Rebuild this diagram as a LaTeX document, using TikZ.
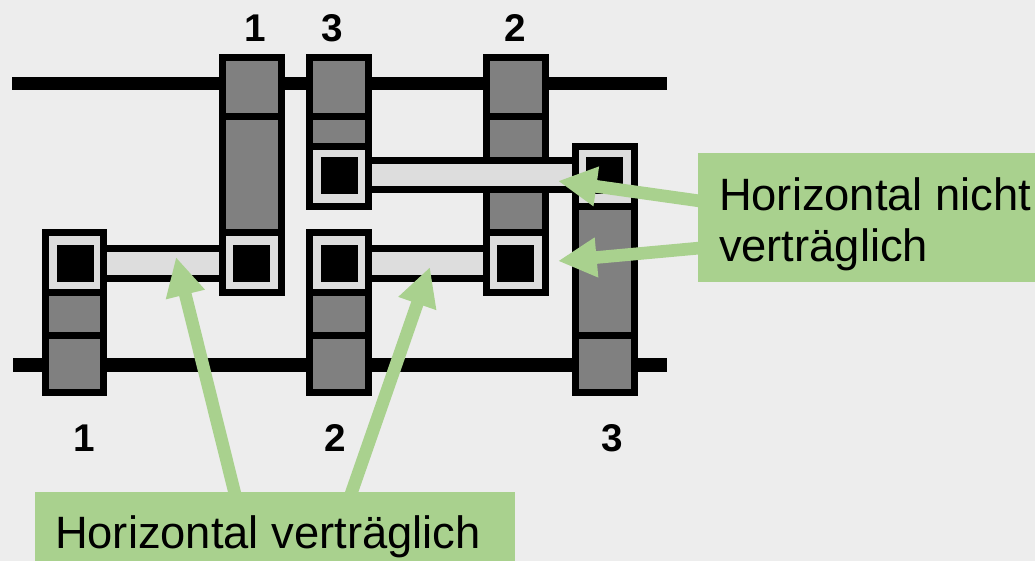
\documentclass[tikz,border=0pt]{standalone}
\usepackage{fontspec}
\setmainfont{Liberation Sans}
\usetikzlibrary{arrows.meta}
\definecolor{MyBack}{HTML}{EDEDED}
\definecolor{MyGreen}{HTML}{A9D18E}
\definecolor{MyPoly}{HTML}{808080}
\definecolor{MyLight}{HTML}{DDDDDD}
\tikzset{
  rail/.style={line width=10pt,black},
  poly/.style={draw=black,fill=MyPoly,line width=5.25pt},
  wire/.style={draw=black,fill=MyLight,line width=5.25pt},
  hole/.style={fill=black},
  hintbox/.style={fill=MyGreen,inner sep=0pt},
  hinttext/.style={anchor=west,inner sep=0pt,align=left,font=\fontsize{34}{38.5}\selectfont},
  hint/.style={MyGreen,line width=9.5pt,-{Triangle[length=29pt,width=28pt]}},
  pin/.style={font=\fontsize{29}{32}\selectfont\bfseries}
}

\begin{document}
\begin{tikzpicture}[x=0.75pt,y=-0.75pt]
  \useasboundingbox (0,0) rectangle (1035,561);
  \fill[MyBack] (0,0) rectangle (1035,561);
  % rails
  \draw[rail] (12,83.5) -- (667,83.5);
  \draw[rail] (13,365) -- (667,365);
  % upper columns
  \foreach \xa/\xb/\ya in {222.5/281.5/232.5, 309.5/368.5/146.5, 486.5/545.5/232.5} {
    \draw[poly] (\xa,57.5) rectangle (\xb,116);
    \draw[poly] (\xa,116) rectangle (\xb,\ya);
  }
  % lower columns
  \foreach \xa/\xb/\ya in {45.5/103.5/292.5, 309.5/368.5/292.5, 575.5/634/206} {
    \draw[poly] (\xa,\ya) rectangle (\xb,335);
    \draw[poly] (\xa,335) rectangle (\xb,392.5);
  }
  % horizontal wires
  \foreach \xa/\xb/\ya/\yb in {103.5/222.5/248.5/278.5, 368.5/486.5/248.5/278.5, 368.5/575.5/160.5/189.5} {
    \draw[wire] (\xa,\ya) rectangle (\xb,\yb);
  }
  % contacts
  \foreach \xa/\xb/\ya/\yb/\xc/\yc in {45.5/103.5/232.5/292.5/57/245, 222.5/281.5/232.5/292.5/233/245, 309.5/368.5/232.5/292.5/321/245, 486.5/545.5/232.5/292.5/497/245, 309.5/368.5/146.5/206/321/157, 575.5/634/146.5/206/586/157} {
    \draw[wire] (\xa,\ya) rectangle (\xb,\yb);
    \fill[hole] (\xc,\yc) rectangle ++(36.5,36.5);
  }
  % pin numbers
  \node[pin] (top1) at (255,28) {1};
  \node[pin] (top3) at (332,28) {3};
  \node[pin] (top2) at (515,28) {2};
  \node[pin] (bot1) at (84,438) {1};
  \node[pin] (bot2) at (335,438) {2};
  \node[pin] (bot3) at (612,438) {3};
  % hints
  \node[hintbox,minimum width=360pt,minimum height=51.75pt] (boxh) at (275,526.5) {};
  \node[hintbox,minimum width=252.75pt,minimum height=96.75pt] (boxn) at (866.5,217.5) {};
  \node[hinttext,xshift=15pt,yshift=-8pt] (texth) at (boxh.west) {Horizontal verträglich};
  \node[hinttext,xshift=15.75pt,yshift=-5pt] (textn) at (boxn.west) {Horizontal nicht\\verträglich};
  \coordinate (tipa) at (176,257);
  \coordinate (tipb) at (430,267);
  \coordinate (tipc) at (558,181);
  \coordinate (tipd) at (558,261);
  \coordinate (froma) at (235,494);
  \coordinate (fromb) at (351,494);
  \coordinate (fromc) at (700,201);
  \coordinate (fromd) at (700,248);
  \draw[hint] (froma) -- (tipa);
  \draw[hint] (fromb) -- (tipb);
  \draw[hint] (fromc) -- (tipc);
  \draw[hint] (fromd) -- (tipd);
\end{tikzpicture}
\end{document}
